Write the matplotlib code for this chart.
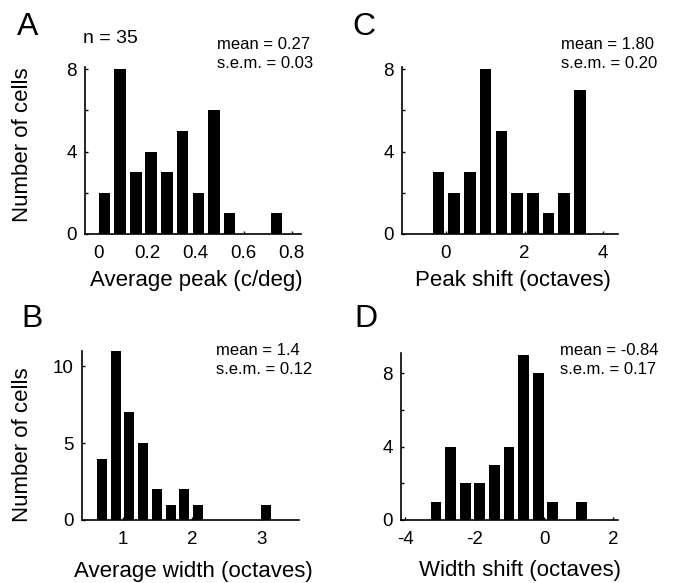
import matplotlib
matplotlib.use("Agg")
import matplotlib.pyplot as plt

plt.rcParams['font.family'] = ['Liberation Sans', 'DejaVu Sans']

W, H = 677, 583

# ---- data ----
peak_centers = [0.023, 0.088, 0.153, 0.217, 0.282, 0.347, 0.412, 0.477, 0.541, 0.606, 0.671, 0.736]
peak_counts = [2, 8, 3, 4, 3, 5, 2, 6, 1, 0, 0, 1]

shift_centers = [-0.19, 0.21, 0.61, 1.01, 1.41, 1.81, 2.21, 2.61, 3.01, 3.41]
shift_counts = [3, 2, 3, 8, 5, 2, 2, 1, 2, 7]

width_centers = [0.70, 0.90, 1.09, 1.29, 1.49, 1.69, 1.88, 2.08, 2.28, 2.47, 2.67, 2.87, 3.06]
width_counts = [4, 11, 7, 5, 2, 1, 2, 1, 0, 0, 0, 0, 1]

wshift_centers = [-3.11, -2.69, -2.27, -1.85, -1.43, -1.01, -0.59, -0.17, 0.25, 0.67, 1.09]
wshift_counts = [1, 4, 2, 2, 3, 4, 9, 8, 1, 0, 1]

panel_letters = ['A', 'C', 'B', 'D']
xlabels = ['Average peak (c/deg)', 'Peak shift (octaves)',
           'Average width (octaves)', 'Width shift (octaves)']
stats = [('0.27', '0.03'), ('1.80', '0.20'), ('1.4', '0.12'), ('-0.84', '0.17')]
n_cells = 35

fig = plt.figure(figsize=(W / 100, H / 100), dpi=100)


def rect(l, r, t, b):
    return [l / W, 1 - b / H, (r - l) / W, (b - t) / H]


def fx(x):
    return x / W


def fy(y):
    return 1 - y / H


TICK_FS = 13.5
LAB_FS = 16
STAT_FS = 12

panels = [
    dict(rect=rect(85, 301, 67, 234), centers=peak_centers, counts=peak_counts,
         xlim=(-0.058, 0.838), ylim=(0, 8.1), xticks=[0, 0.2, 0.4, 0.6, 0.8],
         xtl=['0', '0.2', '0.4', '0.6', '0.8'], yticks=[0, 2, 4, 6, 8],
         ytl=['0', '', '4', '', '8']),
    dict(rect=rect(402, 618, 67, 234), centers=shift_centers, counts=shift_counts,
         xlim=(-1.12, 4.38), ylim=(0, 8.1), xticks=[0, 2, 4],
         xtl=['0', '2', '4'], yticks=[0, 2, 4, 6, 8], ytl=['0', '', '4', '', '8']),
    dict(rect=rect(82, 299, 351, 520), centers=width_centers, counts=width_counts,
         xlim=(0.41, 3.54), ylim=(0, 11), xticks=[1, 2, 3],
         xtl=['1', '2', '3'], yticks=[0, 5, 10], ytl=['0', '5', '10']),
    dict(rect=rect(401, 618, 353, 520), centers=wshift_centers, counts=wshift_counts,
         xlim=(-4.12, 2.13), ylim=(0, 9.1), xticks=[-4, -2, 0, 2],
         xtl=['-4', '-2', '0', '2'], yticks=[0, 2, 4, 6, 8], ytl=['0', '', '4', '', '8']),
]

for p in panels:
    ax = fig.add_axes(p['rect'])
    c = p['centers']
    step = c[1] - c[0]
    ax.bar(c, p['counts'], width=step * 0.74, color='black', edgecolor='none')
    ax.set_xlim(*p['xlim'])
    ax.set_ylim(*p['ylim'])
    ax.set_xticks(p['xticks'])
    ax.set_xticklabels(p['xtl'])
    ax.set_yticks(p['yticks'])
    ax.set_yticklabels(p['ytl'])
    for s in ['top', 'right']:
        ax.spines[s].set_visible(False)
    for s in ['left', 'bottom']:
        ax.spines[s].set_linewidth(1.2)
    ax.set_axisbelow(True)
    ax.tick_params(direction='in', length=2.5, width=1, labelsize=TICK_FS)
    ax.tick_params(axis='x', pad=8)
    ax.tick_params(axis='y', pad=6)

# panel letters
fig.text(fx(17), fy(35), 'A', fontsize=23, va='baseline', ha='left')
fig.text(fx(352), fy(35), 'C', fontsize=23, va='baseline', ha='left')
fig.text(fx(21), fy(327), 'B', fontsize=23, va='baseline', ha='left')
fig.text(fx(354), fy(327), 'D', fontsize=23, va='baseline', ha='left')

fig.text(fx(83), fy(43), f'n = {n_cells}', fontsize=14, va='baseline', ha='left')

# y labels
fig.text(fx(23), fy(145), 'Number of cells', fontsize=LAB_FS, rotation=90,
         va='center', ha='center')
fig.text(fx(23), fy(445), 'Number of cells', fontsize=LAB_FS, rotation=90,
         va='center', ha='center')

# x labels
xl_pos = [(196, 286), (513, 286), (193, 577), (520, 576)]
for (x, y), lab in zip(xl_pos, xlabels):
    fig.text(fx(x), fy(y), lab, fontsize=LAB_FS, va='baseline', ha='center')

# stats
st_pos = [(217, 49), (561, 49), (216, 355), (560, 355)]
for (x, y), (m, s) in zip(st_pos, stats):
    fig.text(fx(x), fy(y), f'mean = {m}', fontsize=STAT_FS, va='baseline', ha='left')
    fig.text(fx(x), fy(y + 19), f's.e.m. = {s}', fontsize=STAT_FS, va='baseline', ha='left')

fig.savefig('out.png', dpi=100)
